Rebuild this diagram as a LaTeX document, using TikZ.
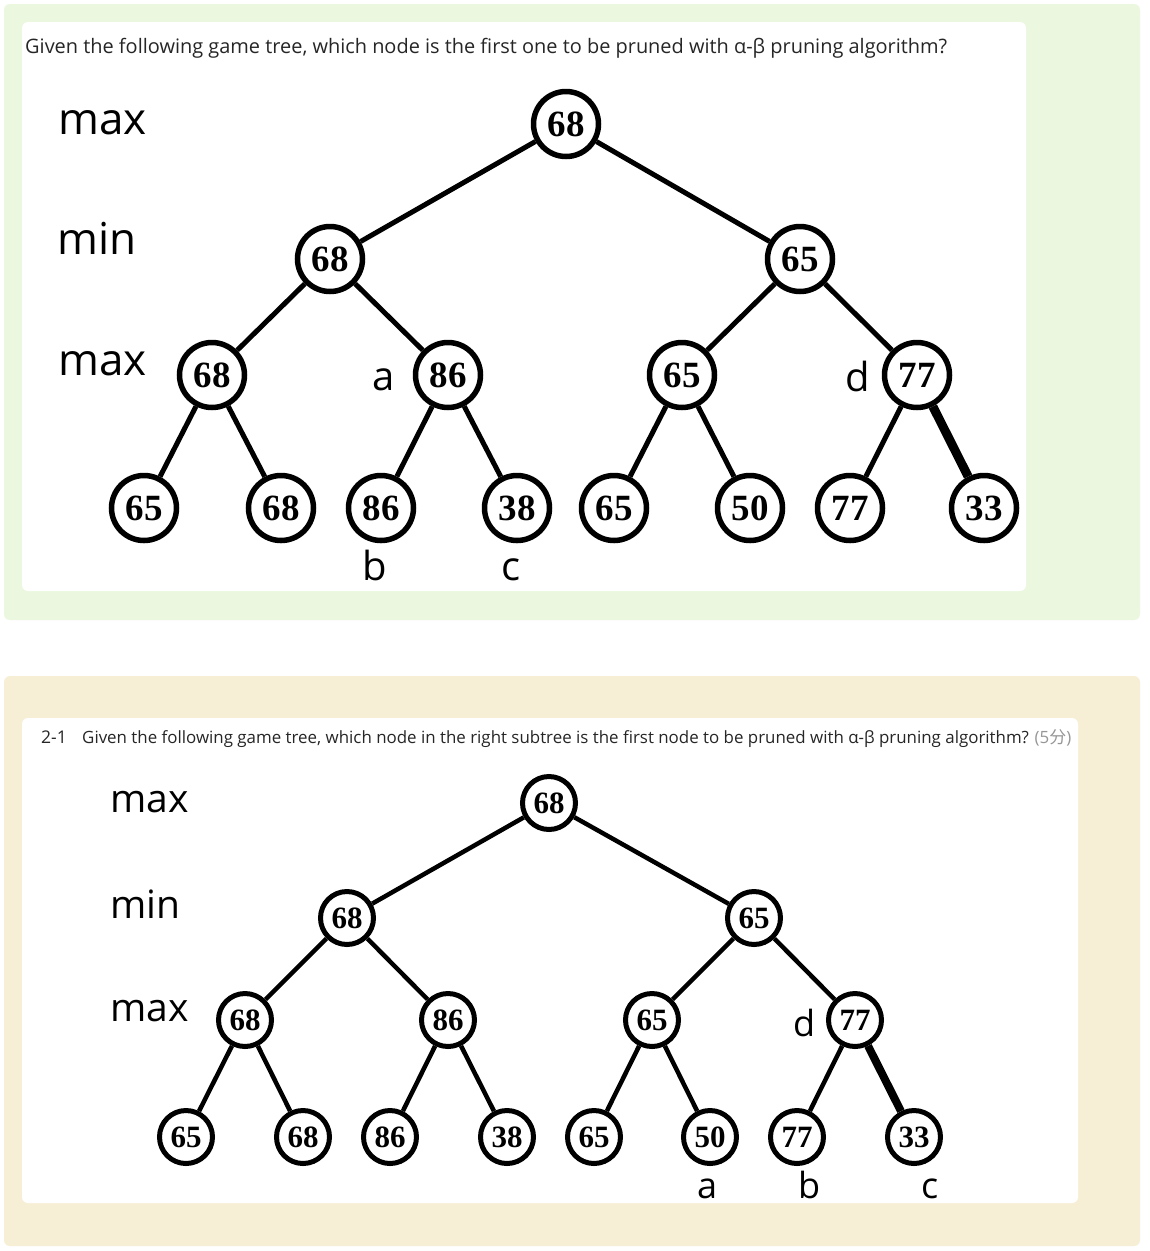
\documentclass[tikz,border=0pt]{standalone}
\usepackage{fontspec}
\setmainfont{Open Sans}
\newfontfamily\numfont{Liberation Serif}
\newfontfamily\cjkfont{Noto Sans CJK SC}
\definecolor{greenbg}{RGB}{235,247,222}
\definecolor{beigebg}{RGB}{246,239,214}
\definecolor{txt}{RGB}{38,38,38}
\definecolor{pts}{RGB}{150,150,150}
\begin{document}
\begin{tikzpicture}[x=1pt,y=-1pt,
  tn/.style={circle,draw,line width=5.5pt,minimum size=65pt,inner sep=0pt,font=\numfont\bfseries\fontsize{37}{37}\selectfont},
  bn/.style={circle,draw,line width=5pt,minimum size=53pt,inner sep=0pt,font=\numfont\bfseries\fontsize{31}{31}\selectfont},
  te/.style={line width=5pt},
  tek/.style={line width=9pt},
  be/.style={line width=4.5pt},
  bek/.style={line width=8pt},
  lvl/.style={anchor=base west,inner sep=0pt,font=\fontsize{44}{44}\selectfont},
  blvl/.style={anchor=base west,inner sep=0pt,font=\fontsize{39}{39}\selectfont},
  tlab/.style={anchor=base west,inner sep=0pt,font=\fontsize{40}{40}\selectfont},
  blab/.style={anchor=base west,inner sep=0pt,font=\fontsize{36}{36}\selectfont},
  qtext/.style={anchor=base west,inner sep=0pt,text=txt}]
\useasboundingbox (0,0) rectangle (1150,1251);
\fill[white] (0,0) rectangle (1150,1251);
% panels
\fill[greenbg,rounded corners=6pt] (4,4) rectangle (1140,620);
\fill[white,rounded corners=6pt] (22,22) rectangle (1026,591);
\fill[beigebg,rounded corners=6pt] (4,676) rectangle (1140,1246);
\fill[white,rounded corners=6pt] (22,718) rectangle (1078,1203);
% top question
\node[qtext] (q1) at (25,53) {\resizebox{922pt}{!}{Given the following game tree, which node is the first one to be pruned with α-β pruning algorithm?}};
% top tree
\node[lvl] (l1) at (58,134) {max};
\node[lvl] (l2) at (57,254) {min};
\node[lvl] (l3) at (58,375) {max};
\node[tn] (r)  at (566,124) {68};
\node[tn] (m1) at (330,259) {68};
\node[tn] (m2) at (800,259) {65};
\node[tn] (x1) at (212,375) {68};
\node[tn] (x2) at (448,375) {86};
\node[tn] (x3) at (682,375) {65};
\node[tn] (x4) at (917,375) {77};
\node[tn] (y1) at (144,508) {65};
\node[tn] (y2) at (281,508) {68};
\node[tn] (y3) at (381,508) {86};
\node[tn] (y4) at (517,508) {38};
\node[tn] (y5) at (614,508) {65};
\node[tn] (y6) at (750,508) {50};
\node[tn] (y7) at (850,508) {77};
\node[tn] (y8) at (984,508) {33};
\node[tlab] (la) at (372,390) {a};
\node[tlab] (ld) at (845,391) {d};
\node[tlab] (lb) at (362,580) {b};
\node[tlab] (lc) at (501,580) {c};
\draw[te] (r) -- (m1);
\draw[te] (r) -- (m2);
\draw[te] (m1) -- (x1);
\draw[te] (m1) -- (x2);
\draw[te] (m2) -- (x3);
\draw[te] (m2) -- (x4);
\draw[te] (x1) -- (y1);
\draw[te] (x1) -- (y2);
\draw[te] (x2) -- (y3);
\draw[te] (x2) -- (y4);
\draw[te] (x3) -- (y5);
\draw[te] (x3) -- (y6);
\draw[te] (x4) -- (y7);
\draw[tek] (x4) -- (y8);
% bottom question
\node[qtext,font=\fontsize{17.5}{17.5}\selectfont] (q2n) at (41,743) {2-1};
\node[qtext] (q2) at (82,743) {\resizebox{989pt}{!}{Given the following game tree, which node in the right subtree is the first node to be pruned with α-β pruning algorithm? \textcolor{pts}{(5{\cjkfont 分})}}};
% bottom tree
\node[blvl] (bl1) at (110,812) {max};
\node[blvl] (bl2) at (110,918) {min};
\node[blvl] (bl3) at (110,1021) {max};
\node[bn] (br)  at (549,803) {68};
\node[bn] (bm1) at (347,918) {68};
\node[bn] (bm2) at (754,918) {65};
\node[bn] (bx1) at (245,1020) {68};
\node[bn] (bx2) at (448,1020) {86};
\node[bn] (bx3) at (652,1020) {65};
\node[bn] (bx4) at (855,1020) {77};
\node[bn] (by1) at (186,1137) {65};
\node[bn] (by2) at (303,1137) {68};
\node[bn] (by3) at (390,1137) {86};
\node[bn] (by4) at (507,1137) {38};
\node[bn] (by5) at (594,1137) {65};
\node[bn] (by6) at (710,1137) {50};
\node[bn] (by7) at (797,1137) {77};
\node[bn] (by8) at (914,1137) {33};
\node[blab] (bld) at (793,1036) {d};
\node[blab] (bla) at (697,1198) {a};
\node[blab] (blb) at (798,1198) {b};
\node[blab] (blc) at (921,1198) {c};
\draw[be] (br) -- (bm1);
\draw[be] (br) -- (bm2);
\draw[be] (bm1) -- (bx1);
\draw[be] (bm1) -- (bx2);
\draw[be] (bm2) -- (bx3);
\draw[be] (bm2) -- (bx4);
\draw[be] (bx1) -- (by1);
\draw[be] (bx1) -- (by2);
\draw[be] (bx2) -- (by3);
\draw[be] (bx2) -- (by4);
\draw[be] (bx3) -- (by5);
\draw[be] (bx3) -- (by6);
\draw[be] (bx4) -- (by7);
\draw[bek] (bx4) -- (by8);
\end{tikzpicture}
\end{document}
